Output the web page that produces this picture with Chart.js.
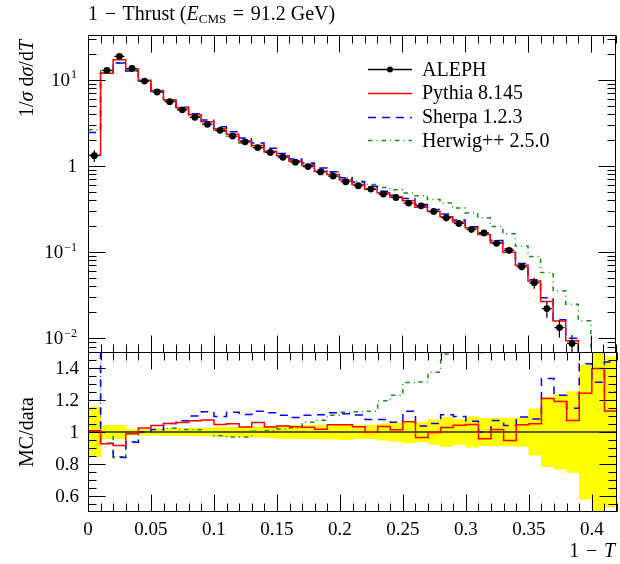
<!DOCTYPE html>
<html>
<head>
<meta charset="utf-8">
<title>1 - Thrust</title>
<script src="https://cdn.jsdelivr.net/npm/chart.js@4.4.1/dist/chart.umd.min.js"></script>
<style>
html, body { margin: 0; padding: 0; background: #fff; }
#wrap { position: relative; width: 620px; height: 564px; }
#wrap canvas { position: absolute; left: 0; top: 0; }
</style>
</head>
<body>
<div id="wrap">
    <canvas id="main-chart" width="620" height="564"></canvas>
    <canvas id="ratio-chart" width="620" height="564"></canvas>
</div>
<script>
// bin edges of 1-T (categories)
var binEdges = [0, 0.01, 0.02, 0.03, 0.04, 0.05, 0.06, 0.07, 0.08, 0.09, 0.10,
    0.11, 0.12, 0.13, 0.14, 0.15, 0.16, 0.17, 0.18, 0.19, 0.20,
    0.21, 0.22, 0.23, 0.24, 0.25, 0.26, 0.27, 0.28, 0.29, 0.30,
    0.31, 0.32, 0.33, 0.34, 0.35, 0.36, 0.37, 0.38, 0.39, 0.40, 0.41, 0.42];

// ALEPH data, 1/sigma dsigma/dT per bin
var alephValues = [1.32, 12.9, 18.8, 13.6, 9.7, 7.25, 5.6, 4.5, 3.68, 3.05,
    2.6, 2.23, 1.91, 1.64, 1.44, 1.265, 1.11, 0.985, 0.855, 0.765,
    0.657, 0.59, 0.54, 0.472, 0.431, 0.371, 0.345, 0.297, 0.25, 0.215,
    0.184, 0.167, 0.127, 0.105, 0.0675, 0.044, 0.0221, 0.0133, 0.0087, 0.0045,
    0.0028, 0.0016];
// relative uncertainty of the data (yellow band)
var alephRelErr = [0.155, 0.042, 0.042, 0.018, 0.02, 0.02, 0.022, 0.022, 0.024, 0.025,
    0.03, 0.03, 0.032, 0.032, 0.035, 0.04, 0.04, 0.042, 0.044, 0.045,
    0.048, 0.04, 0.042, 0.051, 0.059, 0.068, 0.061, 0.077, 0.091, 0.078,
    0.095, 0.086, 0.087, 0.087, 0.09, 0.145, 0.217, 0.232, 0.253, 0.42,
    0.6, 0.47];

var pythiaValues = [1.331, 11.95, 17.22, 13.45, 9.94, 7.54, 5.90, 4.77, 3.94, 3.28,
    2.72, 2.344, 1.971, 1.737, 1.486, 1.313, 1.146, 1.015, 0.870, 0.800,
    0.687, 0.609, 0.539, 0.488, 0.437, 0.395, 0.333, 0.296, 0.257, 0.224,
    0.1925, 0.160, 0.1289, 0.0994, 0.0706, 0.0463, 0.02674, 0.01583, 0.00933, 0.00559,
    0.00391, 0.00181];

var sherpaValues = [2.46, 12.0, 15.79, 12.72, 9.70, 7.36, 5.90, 4.815, 4.05, 3.437,
    2.852, 2.507, 2.120, 1.852, 1.613, 1.398, 1.211, 1.088, 0.947, 0.857,
    0.732, 0.653, 0.582, 0.509, 0.457, 0.419, 0.358, 0.3127, 0.2768, 0.2359,
    0.1965, 0.167, 0.1361, 0.1092, 0.0738, 0.0476, 0.0295, 0.01636, 0.00999, 0.00642,
    0.00367, 0.0023];

var herwigValues = [2.64, 12.9, 15.89, 12.78, 9.68, 7.25, 5.73, 4.57, 3.73, 3.05,
    2.54, 2.159, 1.849, 1.647, 1.452, 1.289, 1.140, 1.045, 0.918, 0.845,
    0.738, 0.665, 0.610, 0.564, 0.530, 0.486, 0.453, 0.408, 0.372, 0.325,
    0.285, 0.25, 0.199, 0.163, 0.118, 0.089, 0.058, 0.0355, 0.0248, 0.016,
    0.0048, 0.002];

// ticks
var xTickValues = [0, 0.05, 0.1, 0.15, 0.2, 0.25, 0.3, 0.35, 0.4];
var xTickLabels = ['0', '0.05', '0.1', '0.15', '0.2', '0.25', '0.3', '0.35', '0.4'];
var logTickValues = [0.01, 0.1, 1, 10];
var logTickLabels = [['10', '\u22122'], ['10', '\u22121'], ['1', ''], ['10', '1']];
var ratioTickValues = [0.6, 0.8, 1, 1.2, 1.4];
var ratioTickLabels = ['0.6', '0.8', '1', '1.2', '1.4'];

var serif = '"Liberation Serif", "DejaVu Serif", serif';
function rm(size) { return size + 'px ' + serif; }
function it(size) { return 'italic ' + size + 'px ' + serif; }
var sp = '\u2004'; // a bit wider than a normal space, like math spacing

// histogram outline as step points at the bin edges
function histPoints(values) {
    var pts = values.map(function (v, i) { return { x: binEdges[i], y: v }; });
    pts.push({ x: binEdges[values.length], y: values[values.length - 1] });
    return pts;
}
function ratioOf(values) {
    return values.map(function (v, i) { return v / alephValues[i]; });
}
function binCentre(i) { return (binEdges[i] + binEdges[i + 1]) / 2; }

// text made of several pieces (roman / italic / sub)
function drawRuns(ctx, x, y, runs, align) {
    var total = 0;
    runs.forEach(function (r) { ctx.font = r[1]; total += ctx.measureText(r[0]).width; });
    var cx = x;
    if (align === 'right') cx = x - total;
    if (align === 'center') cx = x - total / 2;
    ctx.textAlign = 'left';
    ctx.textBaseline = 'alphabetic';
    runs.forEach(function (r) {
        ctx.font = r[1];
        ctx.fillText(r[0], cx, y + (r[2] || 0));
        cx += ctx.measureText(r[0]).width;
    });
}

// frame with inward ticks on all four sides
function drawFrame(chart, yMajor, yMinor) {
    var ctx = chart.ctx, a = chart.chartArea, xs = chart.scales.x, ys = chart.scales.y;
    var left = Math.round(a.left) + 0.5, right = Math.round(a.right) - 0.5;
    var top = Math.round(a.top) + 0.5, bottom = Math.round(a.bottom) - 0.5;
    ctx.save();
    ctx.strokeStyle = '#000';
    ctx.lineWidth = 1;
    ctx.beginPath();
    binEdges.forEach(function (v) {
        var major = xTickValues.some(function (t) { return Math.abs(t - v) < 1e-9; });
        var len = major ? 17 : 8;
        var px = Math.round(xs.getPixelForValue(v)) + 0.5;
        ctx.moveTo(px, top); ctx.lineTo(px, top + len);
        ctx.moveTo(px, bottom); ctx.lineTo(px, bottom - len);
    });
    function yTick(v, len) {
        var py = Math.round(ys.getPixelForValue(v)) + 0.5;
        if (py < a.top || py > a.bottom) return;
        ctx.moveTo(left, py); ctx.lineTo(left + len, py);
        ctx.moveTo(right, py); ctx.lineTo(right - len, py);
    }
    yMajor.forEach(function (v) { yTick(v, 17); });
    yMinor.forEach(function (v) { yTick(v, 8); });
    ctx.stroke();
    ctx.strokeRect(left, top, right - left, bottom - top);
    ctx.restore();
}

var logMinor = [];
[0.001, 0.01, 0.1, 1, 10].forEach(function (d) {
    for (var m = 2; m <= 9; m++) {
        if (m * d > 0.00673 && m * d < 33.3) logMinor.push(m * d);
    }
});
var ratioMinor = [];
for (var k = 10; k <= 30; k++) { ratioMinor.push(k * 0.05); }

var errorBarPlugin = {
    id: 'alephErrors',
    afterDatasetsDraw: function (chart) {
        var ctx = chart.ctx, a = chart.chartArea, xs = chart.scales.x, ys = chart.scales.y;
        ctx.save();
        ctx.beginPath();
        ctx.rect(a.left, a.top, a.right - a.left, a.bottom - a.top);
        ctx.clip();
        ctx.strokeStyle = '#000';
        ctx.lineWidth = 1.2;
        ctx.beginPath();
        alephValues.forEach(function (v, i) {
            var x0 = xs.getPixelForValue(binEdges[i]), x1 = xs.getPixelForValue(binEdges[i + 1]);
            var xc = (x0 + x1) / 2, y = ys.getPixelForValue(v), hw = (x1 - x0) * 0.4;
            ctx.moveTo(xc - hw, y); ctx.lineTo(xc + hw, y);
            ctx.moveTo(xc, ys.getPixelForValue(v * (1 + alephRelErr[i])));
            ctx.lineTo(xc, ys.getPixelForValue(v * (1 - alephRelErr[i])));
        });
        ctx.stroke();
        ctx.restore();
    }
};

var mainDecorPlugin = {
    id: 'mainDecor',
    afterDatasetsDraw: function (chart) {
        var ctx = chart.ctx, ys = chart.scales.y;
        drawFrame(chart, logTickValues, logMinor);
        ctx.save();
        ctx.fillStyle = '#000';
        // y tick labels with exponents
        logTickValues.forEach(function (v, i) {
            var py = ys.getPixelForValue(v);
            var base = logTickLabels[i][0], sup = logTickLabels[i][1];
            ctx.font = rm(12);
            var supW = sup ? ctx.measureText(sup).width : 0;
            ctx.textAlign = 'right';
            ctx.textBaseline = 'alphabetic';
            if (sup) { ctx.fillText(sup, 77, py - 1.5); }
            ctx.font = rm(19);
            ctx.fillText(base, 77 - supW - (sup ? 1 : 0), py + 6.3);
        });
        // title
        drawRuns(ctx, 88, 20, [['1' + sp + '\u2212' + sp + 'Thrust (', rm(20)], ['E', it(20)],
            ['CMS', rm(13), 3], [sp + '=' + sp + '91.2 GeV)', rm(20)]]);
        // y axis title, top aligned
        ctx.save();
        ctx.translate(33, 40);
        ctx.rotate(-Math.PI / 2);
        drawRuns(ctx, 0, 0, [['1/', rm(20)], ['\u03c3', it(20)], [' d', rm(20)], ['\u03c3', it(20)],
            ['/d', rm(20)], ['T', it(20)]], 'right');
        ctx.restore();
        // legend
        var ds = chart.data.datasets;
        ds.forEach(function (d, i) {
            var ly = 69 + 23.8 * i;
            ctx.save();
            ctx.strokeStyle = d.legendColor;
            ctx.lineWidth = 1.5;
            ctx.setLineDash(d.borderDash || []);
            ctx.beginPath();
            ctx.moveTo(368, Math.round(ly) + 0.5); ctx.lineTo(412, Math.round(ly) + 0.5);
            ctx.stroke();
            if (i === 0) {
                ctx.fillStyle = '#000';
                ctx.beginPath();
                ctx.arc(390, Math.round(ly) + 0.5, 3, 0, Math.PI * 2);
                ctx.fill();
            }
            ctx.restore();
            ctx.fillStyle = '#000';
            ctx.font = rm(20);
            ctx.textAlign = 'left';
            ctx.textBaseline = 'alphabetic';
            ctx.fillText(d.label, 422, ly + 6.5);
        });
        ctx.restore();
    }
};

var ratioDecorPlugin = {
    id: 'ratioDecor',
    afterDatasetsDraw: function (chart) {
        var ctx = chart.ctx, xs = chart.scales.x, ys = chart.scales.y;
        drawFrame(chart, ratioTickValues, ratioMinor);
        ctx.save();
        ctx.fillStyle = '#000';
        ctx.font = rm(19);
        ctx.textBaseline = 'alphabetic';
        ctx.textAlign = 'right';
        ratioTickValues.forEach(function (v, i) {
            ctx.fillText(ratioTickLabels[i], 79, ys.getPixelForValue(v) + 6.3);
        });
        ctx.textAlign = 'center';
        xTickValues.forEach(function (v, i) {
            ctx.fillText(xTickLabels[i], xs.getPixelForValue(v), 535);
        });
        drawRuns(ctx, 615, 557, [['1' + sp + '\u2212' + sp, rm(20)], ['T', it(20)]], 'right');
        ctx.save();
        ctx.translate(33, (chart.chartArea.top + chart.chartArea.bottom) / 2);
        ctx.rotate(-Math.PI / 2);
        drawRuns(ctx, 0, 0, [['MC/data', rm(20)]], 'center');
        ctx.restore();
        ctx.restore();
    }
};

var herwigColor = 'rgb(24,140,24)';

function histDataset(label, values, color, dash, order) {
    return {
        label: label,
        data: histPoints(values),
        stepped: 'before',
        borderColor: color,
        legendColor: color,
        borderWidth: 1.5,
        borderDash: dash,
        borderJoinStyle: 'miter',
        pointRadius: 0,
        fill: false,
        order: order
    };
}

var commonOptions = function (padding, yScale) {
    return {
        responsive: false,
        animation: false,
        events: [],
        layout: { padding: padding },
        scales: {
            x: { type: 'linear', min: 0, max: 0.42, display: false, offset: false },
            y: yScale
        },
        plugins: { legend: { display: false }, tooltip: { enabled: false }, title: { display: false } }
    };
};

new Chart(document.getElementById('main-chart'), {
    type: 'line',
    data: {
        datasets: [
            {
                label: 'ALEPH',
                data: alephValues.map(function (v, i) { return { x: binCentre(i), y: v }; }),
                showLine: false,
                pointRadius: 3.4,
                pointBorderWidth: 0,
                pointBackgroundColor: '#000',
                pointBorderColor: '#000',
                legendColor: '#000',
                order: 0
            },
            histDataset('Pythia 8.145', pythiaValues, '#ff0000', [], 1),
            histDataset('Sherpa 1.2.3', sherpaValues, '#0000ff', [8, 6], 2),
            histDataset('Herwig++ 2.5.0', herwigValues, herwigColor, [4.5, 4, 1, 4], 3)
        ]
    },
    options: commonOptions({ left: 88, top: 35, right: 3, bottom: 211 },
        { type: 'logarithmic', min: 0.00673, max: 33.3, display: false }),
    plugins: [errorBarPlugin, mainDecorPlugin]
});

new Chart(document.getElementById('ratio-chart'), {
    type: 'line',
    data: {
        datasets: [
            histDataset('Pythia 8.145', ratioOf(pythiaValues), '#ff0000', [], 1),
            histDataset('Sherpa 1.2.3', ratioOf(sherpaValues), '#0000ff', [8, 6], 2),
            histDataset('Herwig++ 2.5.0', ratioOf(herwigValues), herwigColor, [4.5, 4, 1, 4], 3),
            {
                label: 'data',
                data: [{ x: 0, y: 1 }, { x: 0.42, y: 1 }],
                borderColor: '#5e5e08',
                borderWidth: 2,
                pointRadius: 0,
                order: 4
            },
            {
                type: 'bar',
                label: 'data uncertainty',
                data: alephRelErr.map(function (e, i) { return { x: binCentre(i), y: [1 - e, 1 + e] }; }),
                backgroundColor: '#ffff00',
                borderWidth: 0,
                barPercentage: 1,
                categoryPercentage: 1,
                order: 5
            }
        ]
    },
    options: commonOptions({ left: 88, top: 352, right: 3, bottom: 52 },
        { type: 'linear', min: 0.5, max: 1.5, display: false }),
    plugins: [ratioDecorPlugin]
});
</script>
</body>
</html>
